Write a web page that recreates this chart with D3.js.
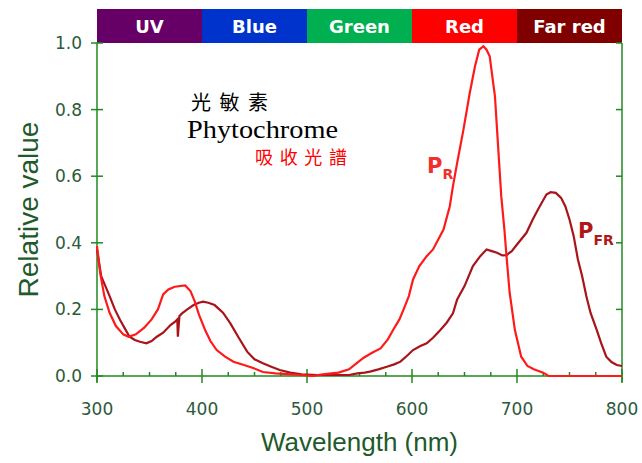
<!DOCTYPE html>
<html>
<head>
<meta charset="utf-8">
<script src="https://cdn.jsdelivr.net/npm/d3@7"></script>
<style>
  body { margin: 0; background: #fff; }
  svg { display: block; }
</style>
</head>
<body>
<svg id="chart" width="642" height="463"></svg>
<script>
// spectral bands across the top
var bandNames = ["UV", "Blue", "Green", "Red", "Far red"];
var bandStart = [300, 400, 500, 600, 700];
var bandEnd = [400, 500, 600, 700, 800];
var bandColors = ["#660066", "#0033cc", "#00b050", "#ff0000", "#800000"];

var xTicks = [300, 400, 500, 600, 700, 800];
var xMinor = [325, 350, 375, 425, 450, 475, 525, 550, 575, 625, 650, 675, 725, 750, 775];
var yTicks = [0, 0.2, 0.4, 0.6, 0.8, 1.0];

// P_R absorption
var prWave = [300, 303, 307, 312, 318, 325, 330, 337, 345, 352, 358, 363, 368, 374, 384, 389, 393, 397,
  403, 408, 414, 422, 430, 440, 448, 458, 470, 485, 495, 505, 515, 530, 540, 548, 554, 562, 570, 577,
  582, 588, 592, 597, 601, 607, 614, 620, 625, 630, 636, 639, 643, 646, 649, 655, 660, 664, 668, 671, 674,
  679, 682, 685, 688, 690, 693, 698, 704, 710, 716, 725, 730, 800];
var prVal = [0.39, 0.31, 0.24, 0.19, 0.15, 0.125, 0.118, 0.125, 0.145, 0.17, 0.2, 0.245, 0.26, 0.268, 0.272, 0.255, 0.225, 0.185,
  0.138, 0.105, 0.078, 0.058, 0.043, 0.033, 0.025, 0.012, 0.008, 0.005, 0.003, 0.0, 0.005, 0.01, 0.02, 0.04, 0.055, 0.07, 0.083, 0.11,
  0.138, 0.17, 0.2, 0.24, 0.29, 0.33, 0.36, 0.38, 0.41, 0.44, 0.51, 0.57, 0.64, 0.69, 0.74, 0.85, 0.93, 0.98, 0.99, 0.98, 0.96,
  0.84, 0.69, 0.54, 0.44, 0.36, 0.25, 0.138, 0.058, 0.03, 0.02, 0.01, 0.0, 0.0];

// P_FR absorption
var pfrWave = [300, 304, 308, 312, 317, 322, 327, 331, 336, 341, 347, 352, 357, 363, 370, 375, 376.5, 377, 378.5, 381,
  386, 392, 397, 401, 406, 412, 420, 427, 435, 443, 450, 458, 466, 474, 484, 495, 510, 540, 548, 555, 560,
  568, 576, 583, 589, 595, 601, 608, 614, 620, 627, 633, 639, 643, 650, 658, 665, 671, 676, 681, 686, 690,
  695, 700, 709, 715, 720, 728, 732, 737, 742, 746, 750, 754, 758, 762, 766, 770, 776, 780, 785, 790, 795, 800];
var pfrVal = [0.38, 0.3, 0.27, 0.24, 0.2, 0.168, 0.14, 0.118, 0.108, 0.103, 0.098, 0.105, 0.118, 0.13, 0.153, 0.165, 0.17, 0.118, 0.18, 0.188,
  0.2, 0.213, 0.22, 0.223, 0.22, 0.213, 0.19, 0.158, 0.115, 0.073, 0.05, 0.038, 0.028, 0.018, 0.01, 0.005, 0.003, 0.003, 0.008, 0.01, 0.013,
  0.02, 0.028, 0.035, 0.043, 0.06, 0.078, 0.09, 0.098, 0.115, 0.138, 0.16, 0.188, 0.23, 0.27, 0.33, 0.36, 0.38, 0.375, 0.37, 0.362, 0.363,
  0.375, 0.395, 0.43, 0.47, 0.5, 0.545, 0.552, 0.55, 0.535, 0.51, 0.47, 0.42, 0.35, 0.3, 0.24, 0.19, 0.138, 0.1, 0.058, 0.042, 0.033, 0.03];

var axisColor = "#1f8a1f";
var labelColor = "#2c5a3a";

var svg = d3.select("#chart");

var x = d3.scaleLinear().domain([300, 800]).range([97, 622]);
var y = d3.scaleLinear().domain([0, 1]).range([376, 43]);

/* Band strip */
var bands = bandNames.map(function(n, i) {
  return {name: n, a: bandStart[i], b: bandEnd[i], color: bandColors[i]};
});
svg.selectAll("rect.band")
  .data(bands)
  .enter()
  .append("rect")
  .attr("class", "band")
  .attr("x", function(d) { return x(d.a); })
  .attr("y", 9)
  .attr("width", function(d) { return x(d.b) - x(d.a); })
  .attr("height", y(1) - 9)
  .attr("fill", function(d) { return d.color; });

svg.selectAll("text.band")
  .data(bands)
  .enter()
  .append("text")
  .attr("x", function(d) { return (x(d.a) + x(d.b)) / 2; })
  .attr("y", 33)
  .attr("text-anchor", "middle")
  .attr("fill", "#fff")
  .attr("font-family", "DejaVu Sans")
  .attr("font-weight", "bold")
  .attr("font-size", 18)
  .text(function(d) { return d.name; });

/* Axes */
var g = svg.append("g").attr("stroke", axisColor).attr("stroke-width", 1.5);
g.append("line").attr("x1", x(300)).attr("x2", x(300)).attr("y1", y(1)).attr("y2", y(0) + 6);
g.append("line").attr("x1", x(800)).attr("x2", x(800)).attr("y1", y(1)).attr("y2", y(0) + 6);
g.append("line").attr("x1", x(300)).attr("x2", x(800)).attr("y1", y(0)).attr("y2", y(0));

g.selectAll("line.ytick")
  .data(yTicks)
  .enter()
  .append("line")
  .attr("x1", x(300) - 6).attr("x2", x(300) + 6)
  .attr("y1", function(d) { return y(d); })
  .attr("y2", function(d) { return y(d); });

g.selectAll("line.ytickR")
  .data(yTicks)
  .enter()
  .append("line")
  .attr("x1", x(800) - 6).attr("x2", x(800))
  .attr("y1", function(d) { return y(d); })
  .attr("y2", function(d) { return y(d); });

g.selectAll("line.xtick")
  .data(xTicks)
  .enter()
  .append("line")
  .attr("x1", function(d) { return x(d); })
  .attr("x2", function(d) { return x(d); })
  .attr("y1", y(0) - 7).attr("y2", y(0) + 7);

g.selectAll("line.xminor")
  .data(xMinor)
  .enter()
  .append("line")
  .attr("x1", function(d) { return x(d); })
  .attr("x2", function(d) { return x(d); })
  .attr("y1", y(0) - 4).attr("y2", y(0));

svg.selectAll("text.ylab")
  .data(yTicks)
  .enter()
  .append("text")
  .attr("x", 82)
  .attr("y", function(d) { return y(d) + 6; })
  .attr("text-anchor", "end")
  .attr("fill", labelColor)
  .attr("font-family", "DejaVu Sans")
  .attr("font-size", 17)
  .text(function(d) { return d3.format(".1f")(d); });

svg.selectAll("text.xlab")
  .data(xTicks)
  .enter()
  .append("text")
  .attr("x", function(d) { return x(d); })
  .attr("y", 415)
  .attr("text-anchor", "middle")
  .attr("fill", labelColor)
  .attr("font-family", "DejaVu Sans")
  .attr("font-size", 17)
  .text(function(d) { return d; });

svg.append("text")
  .attr("x", (x(300) + x(800)) / 2)
  .attr("y", 451)
  .attr("text-anchor", "middle")
  .attr("fill", "#1e5a2a")
  .attr("font-family", "Liberation Sans")
  .attr("font-size", 26)
  .text("Wavelength (nm)");

svg.append("text")
  .attr("transform", "translate(38," + ((y(0) + y(1)) / 2) + ") rotate(-90)")
  .attr("text-anchor", "middle")
  .attr("fill", "#1e5a2a")
  .attr("font-family", "Liberation Sans")
  .attr("font-size", 28)
  .text("Relative value");

/* Curves */
var line = d3.line()
  .x(function(d) { return x(d[0]); })
  .y(function(d) { return y(d[1]); });

svg.append("path")
  .datum(d3.zip(pfrWave, pfrVal))
  .attr("d", line)
  .attr("fill", "none")
  .attr("stroke", "#a8141a")
  .attr("stroke-width", 2.2);

svg.append("path")
  .datum(d3.zip(prWave, prVal))
  .attr("d", line)
  .attr("fill", "none")
  .attr("stroke", "#ff1a1a")
  .attr("stroke-width", 2.2);

/* Labels */
var pr = svg.append("text").attr("x", 427).attr("y", 173)
  .attr("fill", "#f0302a").attr("font-family", "DejaVu Sans").attr("font-weight", "bold");
pr.append("tspan").attr("font-size", 21).text("P");
pr.append("tspan").attr("font-size", 14).attr("dy", 6).text("R");

var pfr = svg.append("text").attr("x", 578).attr("y", 238)
  .attr("fill", "#b01818").attr("font-family", "DejaVu Sans").attr("font-weight", "bold");
pfr.append("tspan").attr("font-size", 21).text("P");
pfr.append("tspan").attr("font-size", 14).attr("dy", 7).text("FR");

svg.append("text")
  .attr("x", 191).attr("y", 110)
  .attr("font-family", "Noto Sans CJK TC")
  .attr("font-size", 20)
  .attr("textLength", 77)
  .attr("lengthAdjust", "spacing")
  .attr("fill", "#000")
  .text("光敏素");

svg.append("text")
  .attr("x", 187).attr("y", 138)
  .attr("font-family", "Liberation Serif")
  .attr("font-size", 25)
  .attr("textLength", 151)
  .attr("lengthAdjust", "spacingAndGlyphs")
  .attr("fill", "#000")
  .text("Phytochrome");

svg.append("text")
  .attr("x", 255).attr("y", 164)
  .attr("font-family", "Noto Sans CJK TC")
  .attr("font-size", 18)
  .attr("textLength", 92)
  .attr("lengthAdjust", "spacing")
  .attr("fill", "#ff0000")
  .text("吸收光譜");
</script>
</body>
</html>
